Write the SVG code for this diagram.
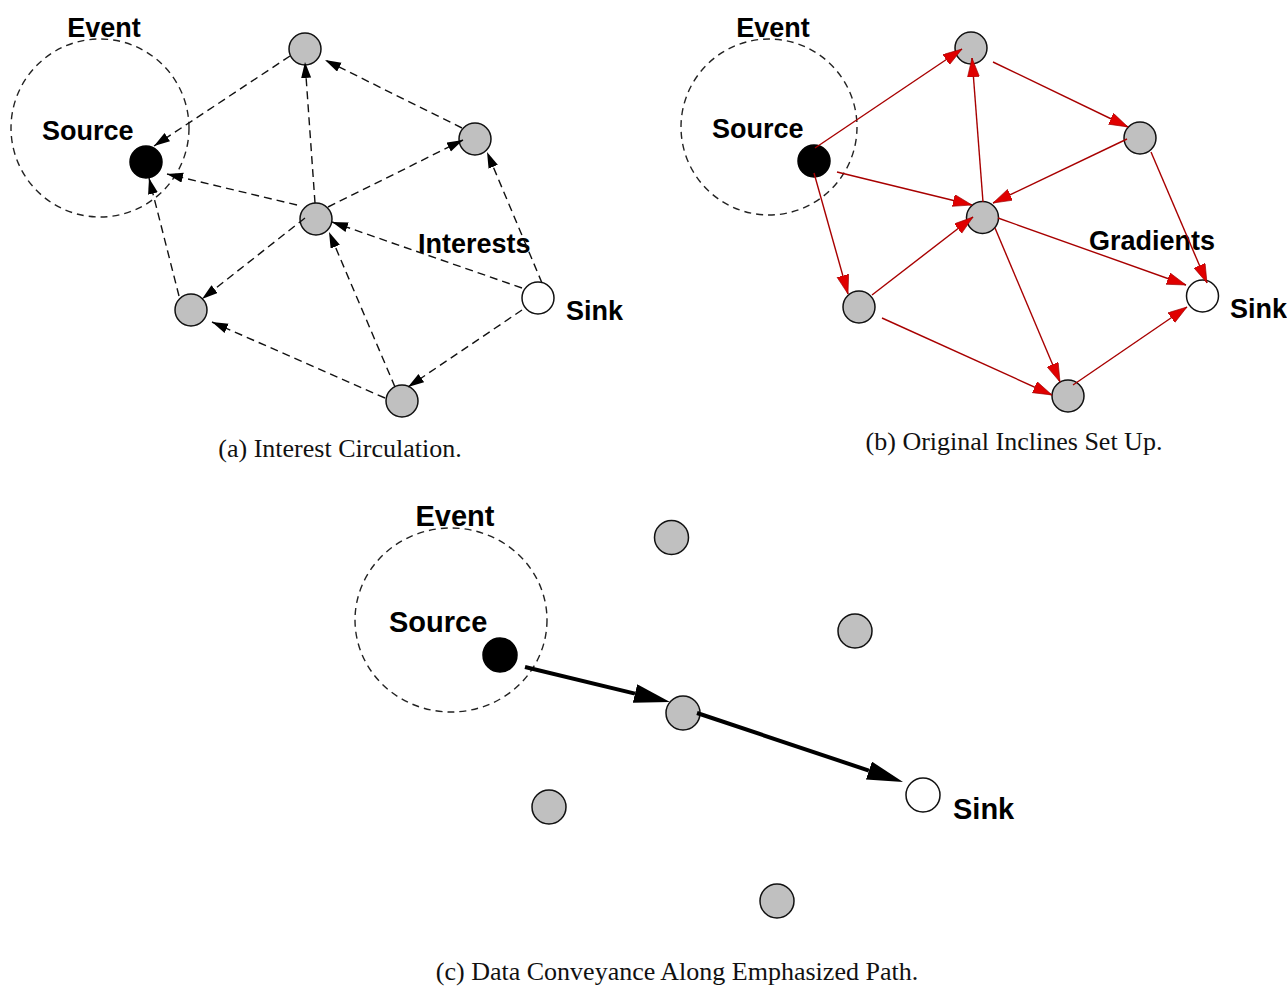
<svg xmlns="http://www.w3.org/2000/svg" width="1287" height="987" viewBox="0 0 1287 987">
<style>
.bg{fill:#ffffff}
.event{fill:none;stroke:#222;stroke-width:1.4;stroke-dasharray:7 5}
.gray{fill:#c0c0c0;stroke:#111;stroke-width:1.5}
.src{fill:#000;stroke:#000;stroke-width:1.5}
.sink{fill:#fff;stroke:#111;stroke-width:1.5}
.lbl{font-family:"Liberation Sans",Arial,sans-serif;font-weight:bold;font-size:27px;fill:#000}
.lblc{font-family:"Liberation Sans",Arial,sans-serif;font-weight:bold;font-size:29px;fill:#000}
.cap{font-family:"Liberation Serif","Times New Roman",serif;font-size:26px;fill:#111;text-anchor:middle}
.dash{fill:none;stroke:#111;stroke-width:1.4;stroke-dasharray:8 5;marker-end:url(#blk)}
.red{fill:none;stroke:#a80000;stroke-width:1.4;marker-end:url(#redh)}
.thick{fill:none;stroke:#000;stroke-width:4;marker-end:url(#big)}
</style>
<defs>
<marker id="blk" markerUnits="userSpaceOnUse" markerWidth="18" markerHeight="11" refX="16" refY="5" orient="auto" viewBox="0 0 18 11">
<path d="M0,0 L16,5 L0,10 z" fill="#000" stroke="none"/>
</marker>
<marker id="redh" markerUnits="userSpaceOnUse" markerWidth="21" markerHeight="13" refX="19" refY="6" orient="auto" viewBox="0 0 21 13">
<path d="M0,0 L19,6 L0,12 z" fill="#e00000" stroke="#900" stroke-width="0.6"/>
</marker>
<marker id="big" markerUnits="userSpaceOnUse" markerWidth="38" markerHeight="20" refX="0" refY="9.5" orient="auto" viewBox="0 0 38 20">
<path d="M0,0 L36,9.5 L0,19 z" fill="#000"/>
</marker>
</defs>
<rect class="bg" x="0" y="0" width="1287" height="987"/>

<!-- Panel (a) -->
<g id="a-event"><circle class="event" cx="100" cy="128" r="89"/><text class="lbl" x="104" y="37" text-anchor="middle">Event</text></g>
<g id="a-source"><circle class="src" cx="146" cy="162" r="16"/><text class="lbl" x="42" y="140">Source</text></g>
<g id="a-n1"><circle class="gray" cx="305" cy="49" r="16"/></g>
<g id="a-n2"><circle class="gray" cx="475" cy="139" r="16"/></g>
<g id="a-n3"><circle class="gray" cx="316" cy="219" r="16"/></g>
<g id="a-n4"><circle class="gray" cx="191" cy="310" r="16"/></g>
<g id="a-n5"><circle class="gray" cx="402" cy="401" r="16"/></g>
<g id="a-sink"><circle class="sink" cx="538" cy="298" r="16"/><text class="lbl" x="566" y="320">Sink</text></g>
<g id="a-interests"><text class="lbl" x="418" y="253">Interests</text></g>
<g id="a-caption"><text class="cap" x="340" y="457">(a) Interest Circulation.</text></g>

<!-- Panel (b) -->
<g id="b-event"><circle class="event" cx="769" cy="127" r="88"/><text class="lbl" x="773" y="37" text-anchor="middle">Event</text></g>
<g id="b-source"><circle class="src" cx="814" cy="161" r="16"/><text class="lbl" x="712" y="138">Source</text></g>
<g id="b-n1"><circle class="gray" cx="971" cy="48" r="16"/></g>
<g id="b-n2"><circle class="gray" cx="1140" cy="138" r="16"/></g>
<g id="b-n3"><circle class="gray" cx="982.5" cy="217.5" r="16"/></g>
<g id="b-n4"><circle class="gray" cx="859" cy="307" r="16"/></g>
<g id="b-n5"><circle class="gray" cx="1068" cy="396" r="16"/></g>
<g id="b-sink"><circle class="sink" cx="1202.5" cy="296" r="16"/><text class="lbl" x="1230" y="318">Sink</text></g>
<g id="b-gradients"><text class="lbl" x="1089" y="250">Gradients</text></g>
<g id="b-caption"><text class="cap" x="1014" y="450">(b) Original Inclines Set Up.</text></g>

<!-- Panel (c) -->
<g id="c-event"><ellipse class="event" cx="451" cy="620" rx="96" ry="92"/><text class="lblc" x="455" y="526" text-anchor="middle">Event</text></g>
<g id="c-source"><circle class="src" cx="500" cy="655" r="17"/><text class="lblc" x="389" y="632">Source</text></g>
<g id="c-n1"><circle class="gray" cx="671.5" cy="537.5" r="17"/></g>
<g id="c-n2"><circle class="gray" cx="855" cy="631" r="17"/></g>
<g id="c-n3"><circle class="gray" cx="683" cy="713" r="17"/></g>
<g id="c-n4"><circle class="gray" cx="549" cy="807" r="17"/></g>
<g id="c-n5"><circle class="gray" cx="777" cy="901" r="17"/></g>
<g id="c-sink"><circle class="sink" cx="923" cy="795" r="17"/><text class="lblc" x="953" y="819">Sink</text></g>
<g id="c-caption"><text class="cap" x="677" y="980">(c) Data Conveyance Along Emphasized Path.</text></g>

<g id="connectors">
<!-- (a) interests -->
<path class="dash" d="M290,56 L154,146"/>
<path class="dash" d="M297,205 L167,174"/>
<path class="dash" d="M179,296 L149,178"/>
<path class="dash" d="M315,203 L305,62"/>
<path class="dash" d="M462,128 L325,60"/>
<path class="dash" d="M328,207 L463,140"/>
<path class="dash" d="M542,283 L487,152"/>
<path class="dash" d="M522,288 L332,222"/>
<path class="dash" d="M395,387 L329,232"/>
<path class="dash" d="M522,310 L408,387"/>
<path class="dash" d="M385,398 L212,322"/>
<path class="dash" d="M305,218 L202,299"/>
<!-- (b) gradients -->
<path class="red" d="M815,148 L962,49"/>
<path class="red" d="M837,172 L972,205"/>
<path class="red" d="M814,173 L848,294"/>
<path class="red" d="M983,202 L972,58"/>
<path class="red" d="M993,62 L1128,127"/>
<path class="red" d="M1127,139 L993,203"/>
<path class="red" d="M872,295 L973,217"/>
<path class="red" d="M998,218 L1186,285"/>
<path class="red" d="M1151,152 L1207,283"/>
<path class="red" d="M995,228 L1060,382"/>
<path class="red" d="M882,318 L1052,395"/>
<path class="red" d="M1073,385 L1187,307"/>
<!-- (c) data path -->
<path class="thick" d="M525,667 L635,693.6"/>
<path class="thick" d="M697,713 L868.9,770.6"/>
</g>
</svg>
